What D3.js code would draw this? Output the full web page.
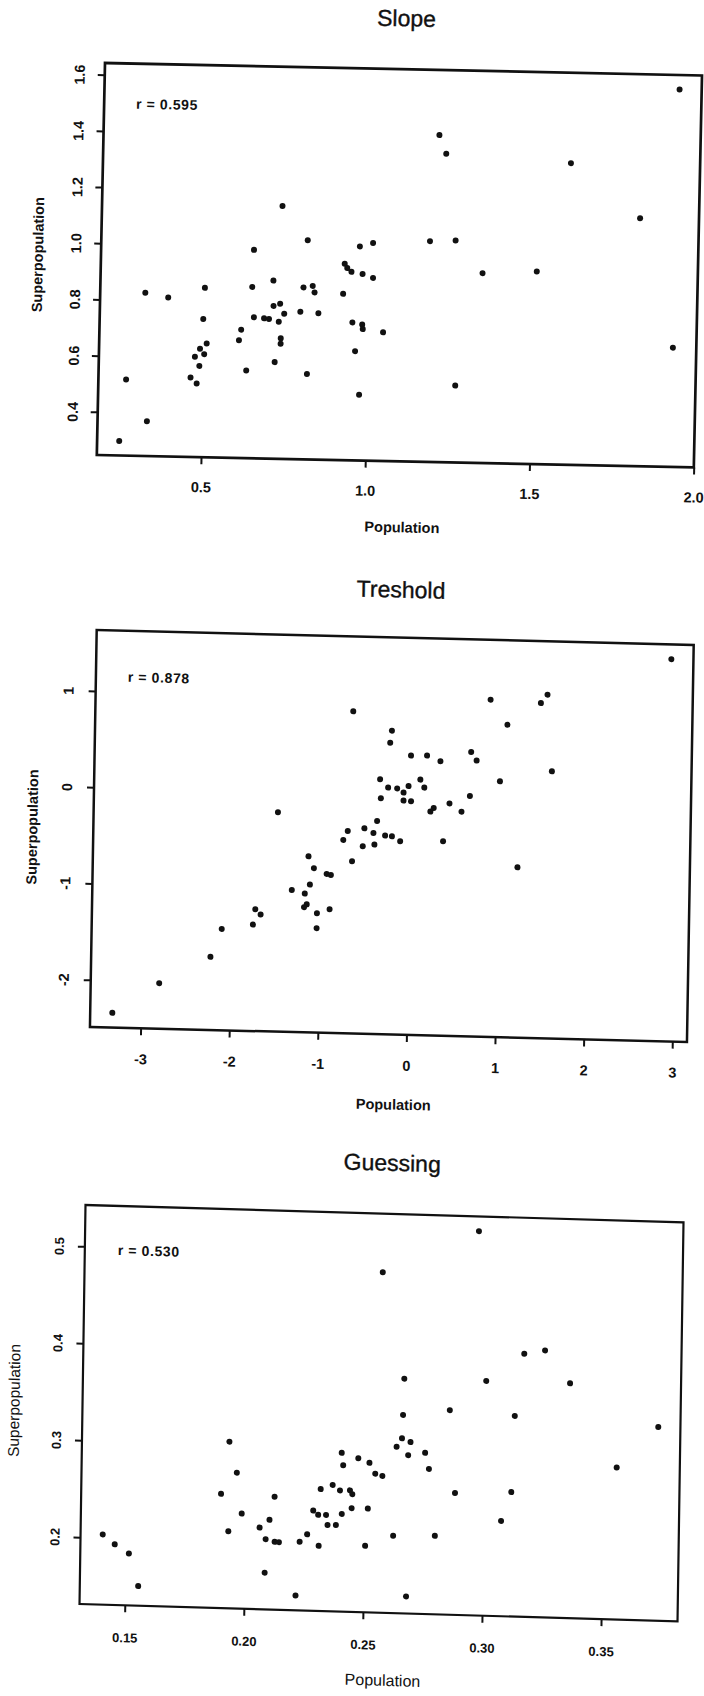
<!DOCTYPE html>
<html>
<head>
<meta charset="utf-8">
<script src="https://cdn.jsdelivr.net/npm/d3@7"></script>
<style>
  body { margin: 0; background: #fff; }
  svg { display: block; }
  text { font-family: "Liberation Sans", Arial, Helvetica, sans-serif; fill: #111; }
</style>
</head>
<body>
<svg id="chart" width="704" height="1696"></svg>
<script>
// ---- Slope: item slope estimates, population vs superpopulation ----
const slopePopulation = [
  0.250, 0.333, 0.267, 0.320, 0.390, 0.501, 0.498, 0.463, 0.482, 0.475,
  0.490, 0.503, 0.489, 0.510, 0.614, 0.608, 0.632, 0.645, 0.652, 0.648,
  0.683, 0.698, 0.709, 0.711, 0.731, 0.744, 0.728, 0.735, 0.735, 0.718,
  0.732, 0.811, 0.793, 0.801, 0.829, 0.835, 0.848, 0.817, 0.922, 0.925,
  0.933, 0.946, 0.980, 1.012, 0.970, 1.010, 0.952, 0.982, 0.984, 1.046,
  0.962, 0.977, 1.205, 1.227, 1.183, 1.261, 1.345, 1.510, 1.269, 1.607,
  1.821, 1.929, 1.933
];
const slopeSuperpopulation = [
  0.298, 0.370, 0.517, 0.827, 0.812, 0.849, 0.738, 0.529, 0.508, 0.603,
  0.632, 0.613, 0.571, 0.651, 0.703, 0.665, 0.558, 0.856, 0.748, 0.988,
  0.745, 0.743, 0.880, 0.790, 0.798, 0.763, 0.734, 0.675, 0.656, 0.590,
  1.146, 1.026, 0.771, 0.858, 0.864, 0.841, 0.767, 0.550, 0.838, 0.945,
  0.930, 0.917, 0.910, 0.897, 1.008, 1.021, 0.737, 0.730, 0.714, 0.704,
  0.635, 0.480, 1.410, 1.344, 1.032, 1.036, 0.922, 0.932, 0.520, 1.320,
  1.129, 0.671, 1.590
];
const slopeXTicks = [0.5, 1.0, 1.5, 2.0];
const slopeYTicks = [0.4, 0.6, 0.8, 1.0, 1.2, 1.4, 1.6];
const slopeR = "r = 0.595";

// ---- Treshold: item threshold estimates ----
const tresholdPopulation = [
  -3.322, -2.799, -2.226, -2.104, -1.753, -1.729, -1.668, -1.492, -1.321, -1.174,
  -1.180, -1.150, -1.139, -1.118, -1.076, -1.033, -1.034, -0.931, -0.883, -0.891,
  -0.750, -0.701, -0.647, -0.662, -0.529, -0.514, -0.411, -0.398, -0.372, -0.346,
  -0.334, -0.254, -0.279, -0.202, -0.152, -0.222, -0.239, -0.108, -0.002, 0.179,
  0.331, -0.079, -0.024, -0.078, 0.007, 0.108, 0.154, 0.227, 0.264, 0.441,
  0.578, 0.670, 0.676, 0.739, 0.885, 1.080, 1.006, 1.220, 1.453, 1.526,
  1.590, 2.916, 0.376
];
const tresholdSuperpopulation = [
  -2.337, -2.017, -1.730, -1.437, -1.384, -1.224, -1.278, -0.212, -1.015, -1.049,
  -1.190, -1.160, -0.661, -0.954, -0.783, -1.250, -1.405, -0.839, -0.849, -1.205,
  -0.482, -0.388, -0.701, 0.855, -0.543, -0.356, -0.402, -0.522, -0.277, 0.157,
  -0.040, 0.073, -0.426, -0.432, 0.067, 0.665, 0.539, -0.481, 0.411, 0.415,
  0.359, 0.025, 0.094, -0.058, -0.063, 0.164, 0.082, -0.165, -0.127, -0.075,
  -0.158, 0.007, 0.464, 0.376, 1.012, 0.757, 0.167, -0.721, 0.990, 1.079,
  0.284, 1.480, -0.470
];
const tresholdXTicks = [-3, -2, -1, 0, 1, 2, 3];
const tresholdYTicks = [-2, -1, 0, 1];
const tresholdR = "r = 0.878";

// ---- Guessing: lower asymptote estimates ----
const guessingPopulation = [
  0.1403, 0.1454, 0.1514, 0.1555, 0.1897, 0.1929, 0.1962, 0.1930, 0.1985, 0.2061,
  0.2085, 0.2087, 0.2102, 0.2122, 0.2125, 0.2143, 0.2216, 0.2230, 0.2261, 0.2285,
  0.2306, 0.2339, 0.2310, 0.2315, 0.2346, 0.2365, 0.2381, 0.2396, 0.2405, 0.2401,
  0.2408, 0.2438, 0.2448, 0.2446, 0.2471, 0.2505, 0.2514, 0.2518, 0.2543, 0.2573,
  0.2963, 0.2562, 0.3161, 0.3248, 0.2659, 0.3003, 0.3355, 0.2656, 0.2852, 0.3125,
  0.3728, 0.2653, 0.2689, 0.2631, 0.2680, 0.2751, 0.2768, 0.2879, 0.3115, 0.3556,
  0.3074, 0.2622, 0.2797, 0.2680
];
const guessingSuperpopulation = [
  0.2035, 0.1936, 0.1846, 0.1513, 0.2489, 0.3029, 0.2712, 0.2105, 0.2291, 0.2152,
  0.1689, 0.2035, 0.2235, 0.2475, 0.2010, 0.2008, 0.1463, 0.2018, 0.2097, 0.2344,
  0.2301, 0.2303, 0.1982, 0.2568, 0.2199, 0.2614, 0.2202, 0.2560, 0.2318, 0.2948,
  0.2820, 0.2563, 0.2525, 0.2380, 0.2897, 0.1996, 0.2381, 0.2853, 0.2743, 0.2722,
  0.5274, 0.4822, 0.4024, 0.4064, 0.3731, 0.3732, 0.3733, 0.3357, 0.3420, 0.3380,
  0.3309, 0.3115, 0.3079, 0.3027, 0.2943, 0.2973, 0.2808, 0.2567, 0.2594, 0.2879,
  0.2293, 0.2108, 0.2120, 0.1486
];
const guessingXTicks = [0.15, 0.20, 0.25, 0.30, 0.35];
const guessingYTicks = [0.2, 0.3, 0.4, 0.5];
const guessingR = "r = 0.530";

const minusHyphen = d => (d < 0 ? "-" + Math.abs(d) : String(d));

// Panel definitions: data plus the frame geometry of each plot.
// The frames sit on a slightly skewed page, so each panel gets a small
// affine matrix (sh = slope of horizontal edges, sv = lean of vertical edges).
const panels = [
  {
    title: "Slope", xs: slopePopulation, ys: slopeSuperpopulation,
    xTicks: slopeXTicks, yTicks: slopeYTicks,
    xFmt: d3.format(".1f"), yFmt: d3.format(".1f"), rText: slopeR,
    geo: { ox: 105, oy: 63, sh: 0.0209, sv: 0.0209, W: 597, H: 392 },
    look: { frame: 2.7, tickFont: "bold 14.5px", xTitleFont: "bold 14.5px", yTitleFont: "bold 14.5px",
            titleY: -43, titleDx: 2, yLab: -20, xLab: 35, xTitleY: 71, xTitleDx: 8,
            yTitleX: -58, yTitleDy: -3, rX: 32, rY: 45 }
  },
  {
    title: "Treshold", xs: tresholdPopulation, ys: tresholdSuperpopulation,
    xTicks: tresholdXTicks, yTicks: tresholdYTicks,
    xFmt: minusHyphen, yFmt: minusHyphen, rText: tresholdR,
    geo: { ox: 96.7, oy: 630, sh: 0.0251, sv: 0.017, W: 597, H: 397 },
    look: { frame: 2.5, tickFont: "bold 14.5px", xTitleFont: "bold 14.5px", yTitleFont: "bold 14.5px",
            titleY: -40, titleDx: 5, yLab: -22, xLab: 36, xTitleY: 75, xTitleDx: 6,
            yTitleX: -56, yTitleDy: 0, rX: 32, rY: 51 }
  },
  {
    title: "Guessing", xs: guessingPopulation, ys: guessingSuperpopulation,
    xTicks: guessingXTicks, yTicks: guessingYTicks,
    xFmt: d3.format(".2f"), yFmt: d3.format(".1f"), rText: guessingR,
    geo: { ox: 85.5, oy: 1205, sh: 0.029, sv: 0.015, W: 598, H: 399 },
    look: { frame: 2.2, tickFont: "bold 13px", xTitleFont: "16px", yTitleFont: "15.5px",
            titleY: -43, titleDx: 7, yLab: -21, xLab: 37, xTitleY: 73, xTitleDx: 5,
            yTitleX: -63, yTitleDy: -2, rX: 33, rY: 49 }
  }
];

// R-style axis limits: data range widened by 4% on both sides
function paddedExtent(values) {
  const [lo, hi] = d3.extent(values);
  const pad = (hi - lo) * 0.04;
  return [lo - pad, hi + pad];
}

const svg = d3.select("#chart");
svg.append("rect").attr("width", 704).attr("height", 1696).attr("fill", "#fff");

panels.forEach(p => {
  const { ox, oy, sh, sv, W, H } = p.geo;
  const L = p.look;
  const g = svg.append("g")
    .attr("transform", `matrix(1,${sh},${-sv},1,${ox},${oy})`);

  const x = d3.scaleLinear().domain(paddedExtent(p.xs)).range([0, W]);
  const y = d3.scaleLinear().domain(paddedExtent(p.ys)).range([H, 0]);

  // title
  g.append("text")
    .attr("x", W / 2 + L.titleDx).attr("y", L.titleY)
    .attr("text-anchor", "middle")
    .style("font-size", "23px")
    .style("stroke", "#111").style("stroke-width", 0.35)
    .text(p.title);

  // x axis
  const gx = g.append("g").attr("transform", `translate(0,${H})`)
    .call(d3.axisBottom(x).tickValues(p.xTicks).tickFormat(p.xFmt).tickSize(7));
  gx.select(".domain").remove();
  gx.selectAll(".tick line").attr("stroke", "#111").attr("stroke-width", 2);
  gx.selectAll(".tick text")
    .attr("y", L.xLab).attr("dy", null)
    .style("font", `${L.tickFont} "Liberation Sans", Arial, sans-serif`)
    .attr("fill", "#111");

  // y axis, labels parallel to the axis as in R (las = 0)
  const gy = g.append("g")
    .call(d3.axisLeft(y).tickValues(p.yTicks).tickFormat(p.yFmt).tickSize(7));
  gy.select(".domain").remove();
  gy.selectAll(".tick line").attr("stroke", "#111").attr("stroke-width", 2);
  gy.selectAll(".tick text")
    .attr("x", null).attr("dy", null)
    .attr("text-anchor", "middle")
    .attr("transform", `translate(${L.yLab},0) rotate(-90)`)
    .style("font", `${L.tickFont} "Liberation Sans", Arial, sans-serif`)
    .attr("fill", "#111");

  // plot frame
  g.append("rect")
    .attr("x", 0).attr("y", 0).attr("width", W).attr("height", H)
    .attr("fill", "none").attr("stroke", "#111").attr("stroke-width", L.frame);

  // axis titles
  g.append("text")
    .attr("x", W / 2 + L.xTitleDx).attr("y", H + L.xTitleY)
    .attr("text-anchor", "middle")
    .style("font", `${L.xTitleFont} "Liberation Sans", Arial, sans-serif`)
    .text("Population");
  g.append("text")
    .attr("transform", `translate(${L.yTitleX},${H / 2 + L.yTitleDy}) rotate(-90)`)
    .attr("text-anchor", "middle")
    .style("font", `${L.yTitleFont} "Liberation Sans", Arial, sans-serif`)
    .text("Superpopulation");

  // correlation note
  g.append("text")
    .attr("x", L.rX).attr("y", L.rY)
    .style("font", `bold 14px "Liberation Sans", Arial, sans-serif`)
    .style("letter-spacing", "0.6px")
    .text(p.rText);

  // points
  g.append("g").selectAll("circle")
    .data(d3.zip(p.xs, p.ys))
    .join("circle")
    .attr("cx", d => x(d[0]))
    .attr("cy", d => y(d[1]))
    .attr("r", 3)
    .attr("fill", "#111");
});
</script>
</body>
</html>
